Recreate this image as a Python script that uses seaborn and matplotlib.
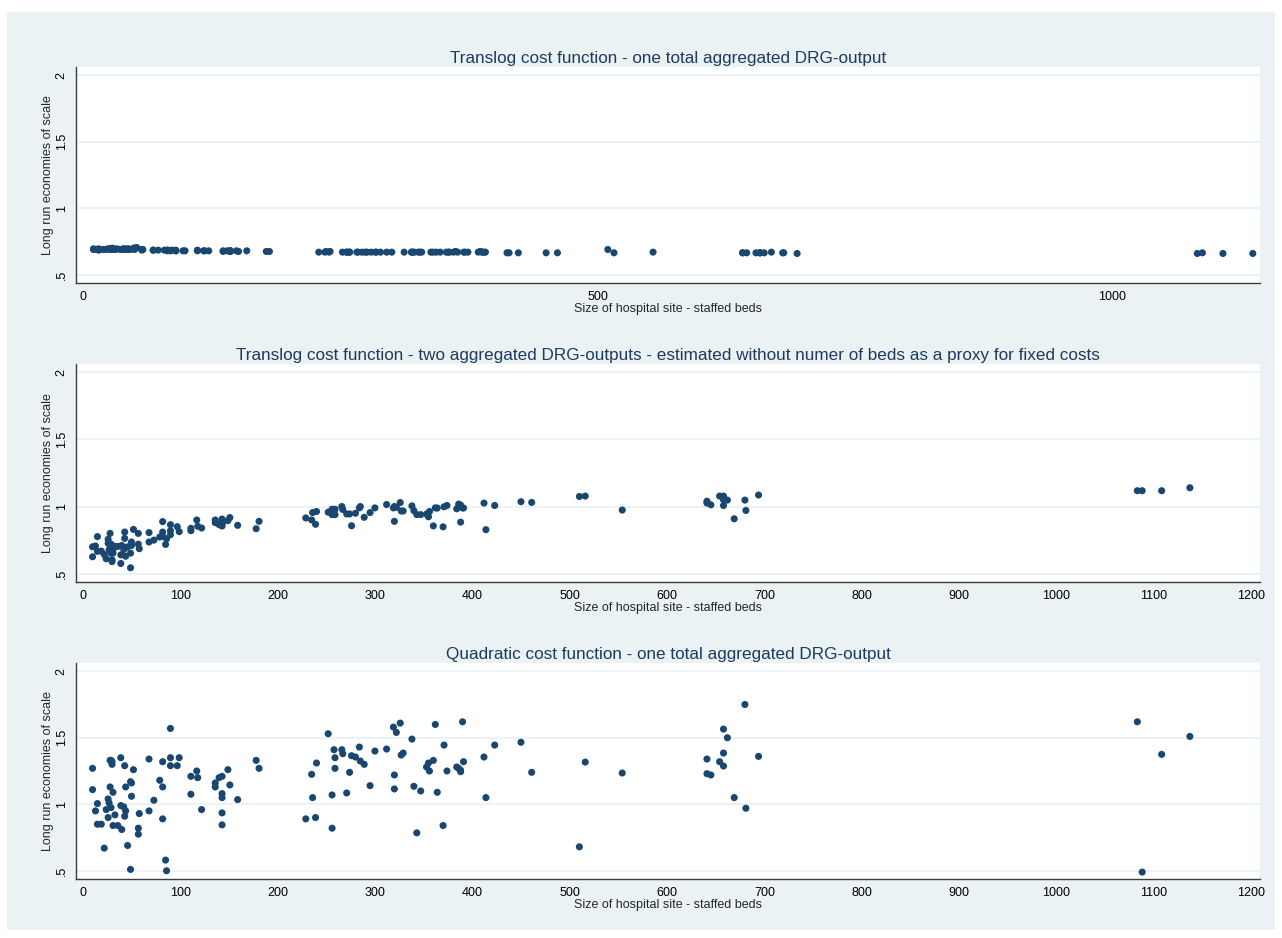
import matplotlib
matplotlib.use("Agg")
import matplotlib.pyplot as plt
from matplotlib.patches import Rectangle
import seaborn as sns
import pandas as pd

# hospital size (staffed beds), one entry per hospital site
beds = [10, 10, 13, 15, 15, 19, 22, 24, 26, 26, 27, 28, 28, 29, 29, 30, 30, 31, 31, 33,
        36, 39, 39, 40, 42, 43, 43, 44, 44, 46, 49, 49, 50, 50, 52, 57, 57, 58, 68, 68,
        73, 79, 82, 82, 82, 85, 86, 90, 90, 90, 97, 99, 111, 111, 117, 118, 122, 136, 136, 140,
        143, 143, 143, 143, 143, 149, 151, 159, 178, 181, 229, 235, 236, 239, 240, 252, 256, 256, 258, 259,
        259, 266, 267, 271, 274, 276, 280, 284, 285, 289, 295, 300, 312, 319, 320, 320, 322, 326, 327, 329,
        338, 340, 343, 347, 353, 355, 356, 360, 362, 364, 370, 371, 374, 384, 386, 388, 388, 391, 390, 412,
        414, 423, 450, 461, 510, 516, 554, 641, 641, 645, 654, 658, 658, 658, 662, 669, 680, 681, 694, 1083,
        1088, 1108, 1137]

# translog, one aggregated DRG-output
els_translog1 = [0.695, 0.69, 0.69, 0.695, 0.685, 0.69, 0.69, 0.695, 0.69, 0.695, 0.69, 0.70, 0.69, 0.69, 0.695, 0.69, 0.695, 0.69, 0.69, 0.695,
                 0.69, 0.695, 0.69, 0.695, 0.69, 0.695, 0.69, 0.695, 0.69, 0.69, 0.70, 0.695, 0.69, 0.70, 0.705, 0.69, 0.685, 0.69, 0.685, 0.685,
                 0.685, 0.685, 0.685, 0.68, 0.685, 0.68, 0.685, 0.68, 0.685, 0.68, 0.68, 0.68, 0.685, 0.68, 0.68, 0.68, 0.68, 0.68, 0.675, 0.68,
                 0.68, 0.675, 0.68, 0.68, 0.675, 0.68, 0.675, 0.68, 0.675, 0.675, 0.67, 0.67, 0.675, 0.67, 0.675, 0.67, 0.67, 0.67, 0.67, 0.67,
                 0.67, 0.67, 0.67, 0.67, 0.67, 0.67, 0.67, 0.67, 0.67, 0.67, 0.67, 0.67, 0.67, 0.67, 0.67, 0.67, 0.67, 0.67, 0.67, 0.67,
                 0.67, 0.67, 0.67, 0.67, 0.67, 0.67, 0.67, 0.67, 0.675, 0.67, 0.67, 0.67, 0.67, 0.67, 0.675, 0.67, 0.67, 0.67, 0.67, 0.665,
                 0.665, 0.665, 0.665, 0.665, 0.69, 0.665, 0.67, 0.665, 0.665, 0.665, 0.665, 0.665, 0.665, 0.665, 0.665, 0.67, 0.665, 0.665, 0.66, 0.66,
                 0.665, 0.66, 0.66]

# translog, two aggregated DRG-outputs, no beds proxy
els_translog2 = [0.626, 0.70, 0.706, 0.776, 0.666, 0.668, 0.643, 0.611, 0.756, 0.726, 0.678, 0.80, 0.686, 0.653, 0.72, 0.603, 0.59, 0.653, 0.68, 0.703,
                 0.703, 0.64, 0.576, 0.71, 0.68, 0.81, 0.763, 0.63, 0.695, 0.70, 0.544, 0.653, 0.736, 0.71, 0.83, 0.80, 0.72, 0.686, 0.736, 0.806,
                 0.75, 0.773, 0.888, 0.81, 0.778, 0.718, 0.76, 0.865, 0.82, 0.79, 0.85, 0.813, 0.838, 0.82, 0.90, 0.853, 0.84, 0.88, 0.90, 0.865,
                 0.907, 0.875, 0.855, 0.89, 0.87, 0.895, 0.918, 0.86, 0.835, 0.89, 0.915, 0.90, 0.955, 0.868, 0.963, 0.958, 0.98, 0.94, 0.97, 0.94,
                 0.98, 1.00, 0.978, 0.945, 0.945, 0.857, 0.95, 0.99, 1.00, 0.92, 0.955, 0.99, 1.015, 0.99, 1.00, 0.89, 0.995, 1.03, 0.967, 0.967,
                 1.005, 0.97, 0.94, 0.94, 0.944, 0.924, 0.963, 0.856, 0.99, 0.989, 0.849, 0.998, 1.008, 0.983, 1.018, 1.011, 0.884, 0.989, 0.99, 1.026,
                 0.828, 1.008, 1.036, 1.031, 1.075, 1.078, 0.974, 1.04, 1.026, 1.013, 1.078, 1.078, 1.008, 1.05, 1.048, 0.909, 1.048, 0.971, 1.086, 1.118,
                 1.118, 1.118, 1.14]

# quadratic, one aggregated DRG-output
els_quadratic = [1.27, 1.11, 0.95, 1.005, 0.85, 0.85, 0.67, 0.96, 1.04, 0.90, 1.01, 1.13, 1.33, 0.975, 1.33, 1.30, 1.32, 1.09, 0.84, 0.92,
                 0.84, 1.35, 0.99, 0.81, 0.98, 1.29, 0.91, 0.95, 1.13, 0.69, 0.51, 1.17, 1.16, 1.06, 1.26, 0.82, 0.775, 0.93, 0.95, 1.34,
                 1.03, 1.18, 1.32, 1.13, 0.89, 0.58, 0.50, 1.57, 1.35, 1.29, 1.29, 1.35, 1.21, 1.075, 1.25, 1.20, 0.96, 1.13, 1.16, 1.20,
                 1.21, 1.05, 0.935, 1.08, 0.845, 1.26, 1.145, 1.035, 1.33, 1.27, 0.89, 1.225, 1.05, 0.90, 1.31, 1.53, 1.07, 0.82, 1.41, 1.35,
                 1.27, 1.41, 1.38, 1.085, 1.24, 1.365, 1.355, 1.43, 1.325, 1.30, 1.14, 1.40, 1.415, 1.58, 1.22, 1.115, 1.54, 1.61, 1.37, 1.385,
                 1.49, 1.135, 0.785, 1.10, 1.28, 1.31, 1.25, 1.33, 1.60, 1.09, 0.84, 1.445, 1.25, 1.28, 1.27, 1.245, 1.255, 1.32, 1.62, 1.355,
                 1.05, 1.445, 1.466, 1.24, 0.68, 1.317, 1.235, 1.34, 1.23, 1.22, 1.32, 1.565, 1.385, 1.287, 1.50, 1.05, 1.75, 0.97, 1.36, 1.62,
                 0.49, 1.375, 1.51]

titles = [
    "Translog cost function - one total aggregated DRG-output",
    "Translog cost function - two aggregated DRG-outputs - estimated without numer of beds as a proxy for fixed costs",
    "Quadratic cost function - one total aggregated DRG-output",
]
series = [els_translog1, els_translog2, els_quadratic]
y_ticks = [0.5, 1, 1.5, 2]
y_ticklabels = [".5", "1", "1.5", "2"]

BG = "#eaf2f3"
MARKER = "#1a476f"
TITLE_COLOR = "#1e3a5f"
AXIS_COLOR = "#3c3c3c"

sns.set_style("white")
plt.rcParams['font.family'] = ['Liberation Sans', 'DejaVu Sans']

W, H = 1282, 938
fig = plt.figure(figsize=(W / 100, H / 100), dpi=100, facecolor="white")
fig.patches.append(Rectangle((7 / W, 8 / H), 1268 / W, 918 / H, transform=fig.transFigure,
                             facecolor=BG, edgecolor="none", zorder=-10))

# (top, bottom) pixel rows of each plot region
rows = [(67, 283), (364, 582), (663, 879)]
left_px, right_px = 76, 1260

for i, ((top, bottom), title, vals) in enumerate(zip(rows, titles, series)):
    ax = fig.add_axes([left_px / W, (H - bottom) / H, (right_px - left_px) / W, (bottom - top) / H])
    df = pd.DataFrame({"beds": beds, "els": vals})
    sns.scatterplot(data=df, x="beds", y="els", ax=ax, color=MARKER, s=26,
                    edgecolor="none", linewidth=0, zorder=3)

    ax.set_facecolor("white")
    ax.set_ylim(0.438, 2.062)
    if i == 0:
        ax.set_xlim(-7, 1144)
        ax.set_xticks([0, 500, 1000])
    else:
        ax.set_xlim(-7, 1209)
        ax.set_xticks(range(0, 1201, 100))
    ax.set_yticks(y_ticks)
    ax.set_yticklabels(y_ticklabels, rotation=90, va="center")

    ax.grid(axis="y", color=BG, linewidth=1.3, zorder=0)
    ax.grid(axis="x", visible=False)
    for side in ["top", "right"]:
        ax.spines[side].set_visible(False)
    for side in ["left", "bottom"]:
        ax.spines[side].set_color(AXIS_COLOR)
        ax.spines[side].set_linewidth(1.0)

    ax.tick_params(axis="both", direction="out", length=4, width=0.9, color=AXIS_COLOR,
                   labelsize=9, labelcolor="black", pad=2)
    ax.set_title(title, fontsize=12.3, color=TITLE_COLOR, pad=3)
    ax.set_xlabel("Size of hospital site - staffed beds", fontsize=9, labelpad=0)
    ax.set_ylabel("Long run economies of scale", fontsize=9, labelpad=1)

fig.savefig("out.png", dpi=100, facecolor=fig.get_facecolor())
